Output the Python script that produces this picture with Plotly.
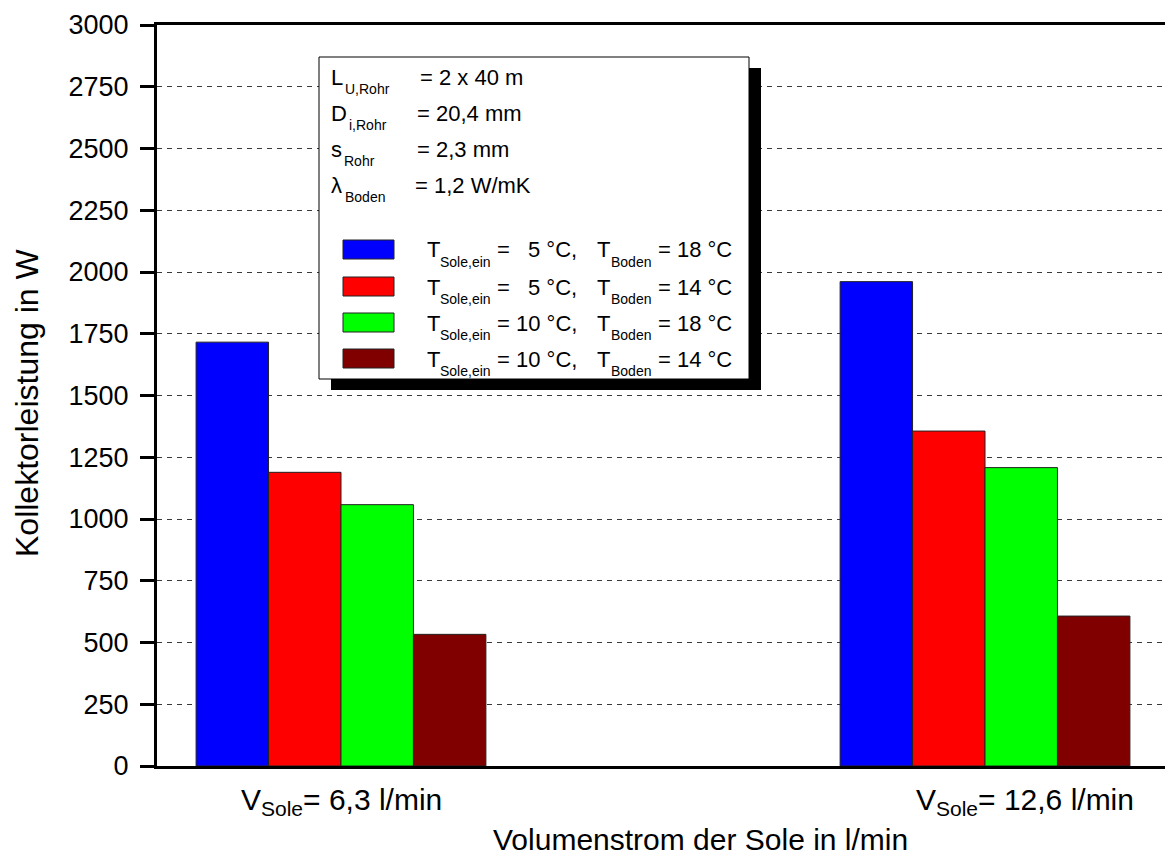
import plotly.graph_objects as go

# data
group_labels = ["V<sub>Sole</sub>= 6,3 l/min", "V<sub>Sole</sub>= 12,6 l/min"]
t_sole = ["5", "5", "10", "10"]
t_boden = ["18", "14", "18", "14"]
series_colors = ["#0000ff", "#ff0000", "#00ff00", "#800000"]
leistung_18_5 = [1716, 1961]
leistung_14_5 = [1189, 1356]
leistung_18_10 = [1058, 1208]
leistung_14_10 = [533, 607]
series_values = [leistung_18_5, leistung_14_5, leistung_18_10, leistung_14_10]
y_ticks = list(range(0, 3001, 250))
param_symbols = ["L", "D", "s", "λ"]
param_subs = ["U,Rohr", "i,Rohr", "Rohr", "Boden"]
param_values = ["= 2 x 40 m", "= 20,4 mm", "= 2,3 mm", "= 1,2 W/mK"]

FONT = "Liberation Sans, Arial, sans-serif"

# plot area in window pixels (the page body adds an 8px margin)
X0, X1 = 157, 1173
Y0, Y1 = 766, 25
PAGE = 8


def fx(p):
    return (p - X0) / (X1 - X0)


def fy(p):
    return (Y0 - p) / (Y0 - Y1)


fig = go.Figure()
x_pos = list(range(len(group_labels)))
for i, vals in enumerate(series_values):
    name = f"T Sole,ein = {t_sole[i]} °C, T Boden = {t_boden[i]} °C"
    fig.add_trace(go.Bar(x=x_pos, y=vals, name=name, showlegend=False,
                         marker=dict(color=series_colors[i], line=dict(color="#222222", width=1))))

fig.update_layout(
    width=1173 - PAGE, height=855 - PAGE,
    margin=dict(l=X0 - PAGE, r=0, t=Y1 - PAGE, b=855 - Y0),
    paper_bgcolor="white", plot_bgcolor="white",
    barmode="group", bargap=0.55, bargroupgap=0,
    font=dict(family=FONT, size=22, color="black"),
    xaxis=dict(range=[-0.2857, 1.2919], showticklabels=False, ticks="", showgrid=False, zeroline=False,
               showline=True, linecolor="black", linewidth=3, mirror=True),
    yaxis=dict(range=[0, 3000], tickvals=y_ticks, ticks="outside", ticklen=14, tickwidth=3, tickcolor="black",
               tickfont=dict(size=27), ticklabelstandoff=6, showline=True, linecolor="black", linewidth=3,
               zeroline=False, showgrid=True, gridcolor="#3a3a3a", gridwidth=1, griddash="5px,5px"),
    yaxis2=dict(range=[0, 3000], tickvals=y_ticks, overlaying="y", side="right", ticks="inside", ticklen=10,
                tickwidth=3, tickcolor="black", showticklabels=False, showgrid=False, showline=False, zeroline=False),
)


def add_text(x, y, text, size=22, anchor="left"):
    fig.add_annotation(x=fx(x), y=fy(y), xref="paper", yref="paper", text=text, showarrow=False,
                       xanchor=anchor, yanchor="middle", font=dict(size=size))


# x labels and axis titles
x_shift = [0, 40]
for i, lab in enumerate(group_labels):
    fig.add_annotation(x=x_pos[i], y=fy(801), xref="x", yref="paper", text=lab, showarrow=False,
                       xshift=x_shift[i], yanchor="middle", font=dict(size=30))
add_text(700, 839, "Volumenstrom der Sole in l/min", size=30, anchor="center")
fig.add_annotation(x=fx(27), y=fy(403), xref="paper", yref="paper", text="Kollektorleistung in W", textangle=-90,
                   xanchor="center", yanchor="middle", showarrow=False, font=dict(size=32))

# legend box with shadow
fig.add_shape(type="rect", xref="paper", yref="paper", x0=fx(331), x1=fx(761), y0=fy(390), y1=fy(68),
              fillcolor="black", line=dict(width=0), layer="above")
fig.add_shape(type="rect", xref="paper", yref="paper", x0=fx(319), x1=fx(749), y0=fy(379), y1=fy(57),
              fillcolor="white", line=dict(color="black", width=1), layer="above")

row_y = [77, 113, 149, 185]
sub_x = [343, 347, 342, 343]
val_x = [418, 415, 415, 413]
for i, sym in enumerate(param_symbols):
    add_text(329, row_y[i], sym)
    add_text(sub_x[i], row_y[i] + 12, param_subs[i], size=14)
    add_text(val_x[i], row_y[i], param_values[i])

leg_y = [250, 287, 323, 359]
for i in range(len(series_values)):
    yc = leg_y[i]
    fig.add_shape(type="rect", xref="paper", yref="paper", x0=fx(343), x1=fx(394), y0=fy(yc + 9), y1=fy(yc - 10),
                  fillcolor=series_colors[i], line=dict(color="#222222", width=1), layer="above")
    add_text(425, yc, "T")
    add_text(438, yc + 12, "Sole,ein", size=14)
    add_text(495, yc, "=")
    add_text(579, yc, f"{t_sole[i]} °C,", anchor="right")
    add_text(595, yc, "T")
    add_text(609, yc + 12, "Boden", size=14)
    add_text(656, yc, f"= {t_boden[i]} °C")

fig.write_html("out.html")
